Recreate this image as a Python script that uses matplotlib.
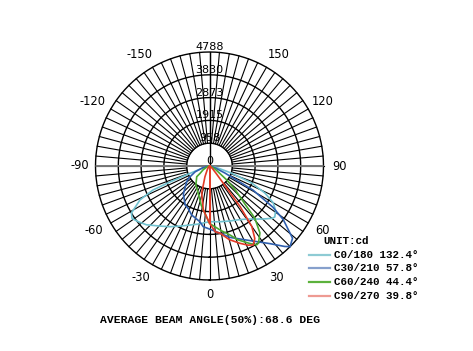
import numpy as np
import matplotlib.pyplot as plt
from matplotlib.lines import Line2D

# ---------- data (angle in deg, 0 = down, + = right; intensity in cd) ----------
ring_vals = [958, 1915, 2873, 3830, 4788]
ring_labels = ['958', '1915', '2873', '3830', '4788']
angle_ticks = [-150, -120, -90, -60, -30, 0, 30, 60, 90, 120, 150]

c0_theta = [-90, -80, -75, -72, -69, -68, -67, -64, -59, -56, -52, -47, -40, -33, -25, -12,
            0, 10, 20, 28, 35, 40, 45, 50, 52, 56, 60, 64, 68, 72, 76, 80, 90]
c0_r = [0, 80, 200, 400, 1000, 1790, 2580, 3250, 3820, 3930, 3800, 3620, 3290, 3040, 2780, 2500,
        2340, 2380, 2460, 2560, 2720, 2910, 3150, 3420, 3480, 3350, 3090, 2590, 1910, 980, 400, 150, 0]

c30_theta = [-90, -82, -75, -68, -60, -56, -43, -32, -27, -20, -10, -6, 5, 16, 28.5, 38, 43,
             45, 49, 54, 57, 61, 65.5, 70, 80, 90]
c30_r = [0, 100, 300, 650, 1000, 1150, 1610, 1930, 1990, 2190, 2370, 2560, 2750, 3120, 3565,
         4140, 4620, 4788, 4620, 3830, 3170, 2090, 710, 300, 100, 0]

c60_theta = [-90, -70, -60, -52, -50, -35, -30, -12, 0, 10, 16.5, 21, 27.5, 31, 32.5, 37, 41,
             42.5, 47, 51, 60, 70, 90]
c60_r = [0, 100, 300, 505, 700, 1000, 1060, 1680, 2410, 2750, 3020, 3320, 3670, 3860, 3830,
         3520, 2900, 2310, 1500, 930, 300, 100, 0]

c90_theta = [-90, -40, -30, -23, -16, -8, 0, 5, 9, 15, 21.5, 26, 29, 32, 35, 37, 38.6, 42, 50,
             60, 90]
c90_r = [0, 80, 200, 490, 1190, 1860, 2400, 2770, 2860, 3200, 3490, 3700, 3790, 3590, 3100,
         2140, 930, 400, 150, 50, 0]

series = [
    ('C0/180 132.4\u00b0', c0_theta, c0_r, '#6fc1cf', '#8ecbd4'),
    ('C30/210 57.8\u00b0', c30_theta, c30_r, '#2f5fae', '#86a0cc'),
    ('C60/240 44.4\u00b0', c60_theta, c60_r, '#4aa830', '#5cb23c'),
    ('C90/270 39.8\u00b0', c90_theta, c90_r, '#e23a26', '#ee9a92'),
]
title = 'AVERAGE BEAM ANGLE(50%):68.6 DEG'

# ---------- figure ----------
W, H = 473, 351
fig = plt.figure(figsize=(W / 100, H / 100), dpi=100)
cx, cy, R = 209.5, 166, 114
ax = fig.add_axes([(cx - R) / W, 1 - (cy + R) / H, 2 * R / W, 2 * R / H], projection='polar')
ax.set_theta_zero_location('S')
ax.set_theta_direction(1)
ax.set_ylim(0, ring_vals[-1])
ax.grid(False)
ax.set_xticks([])
ax.set_yticks([])
ax.spines['polar'].set_visible(False)

full = np.linspace(0, 2 * np.pi, 361)
for v in ring_vals:
    ax.plot(full, np.full_like(full, v), color='black', lw=1.0, clip_on=False)

for a in range(0, 360, 5):
    t = np.deg2rad(a)
    ax.plot([t, t], [ring_vals[0], ring_vals[-1]], color='black', lw=0.8, clip_on=False)

# axes through centre
ax.plot([np.pi / 2, np.pi / 2], [0, ring_vals[-1]], color='#777777', lw=1.4)
ax.plot([-np.pi / 2, -np.pi / 2], [0, ring_vals[-1]], color='#777777', lw=1.4)
ax.plot([np.pi, np.pi], [0, ring_vals[-1]], color='black', lw=1.0)

# ring labels
ax.text(0, 0, '0', ha='center', va='bottom', fontsize=8, family='DejaVu Sans')
for v, lab in zip(ring_vals, ring_labels):
    ax.text(np.pi, v, lab, ha='center', va='bottom', fontsize=8, family='DejaVu Sans')

# angle labels
lab_r = ring_vals[-1] * 129 / 114
nudge = {-150: -6, 150: 5, -120: -5, 120: 2, -90: -1, 90: 1, -60: -4, 60: 1, -30: -4, 30: 2, 0: 0}
for a in angle_ticks:
    ax.annotate(str(a), xy=(np.deg2rad(a), lab_r), xytext=(nudge[a], 0),
                textcoords='offset pixels', ha='center', va='center',
                fontsize=8.3, family='DejaVu Sans', annotation_clip=False)

# curves
for name, th, r, col, lcol in series:
    ax.plot(np.deg2rad(th), r, color=col, lw=1.2, clip_on=False)
# red radial segment to the centre
ax.plot([0, 0], [0, c90_r[c90_theta.index(0)]], color=series[3][3], lw=1.4)

# legend
mono = 'Liberation Mono'
fig.text(323 / W, 1 - 241.5 / H, 'UNIT:cd', ha='left', va='center', fontsize=7.8,
         family=mono, weight='bold')
for i, (name, th, r, col, lcol) in enumerate(series):
    y = 1 - (254.5 + 13.8 * i) / H
    fig.add_artist(Line2D([309 / W, 330 / W], [y, y], color=lcol, lw=1.6))
    fig.text(334 / W, y, name, ha='left', va='center', fontsize=7.8, family=mono, weight='bold')

fig.text(cx / W, 1 - 320 / H, title, ha='center', va='center', fontsize=8.2,
         family=mono, weight='bold')

fig.savefig('out.png', dpi=100)
